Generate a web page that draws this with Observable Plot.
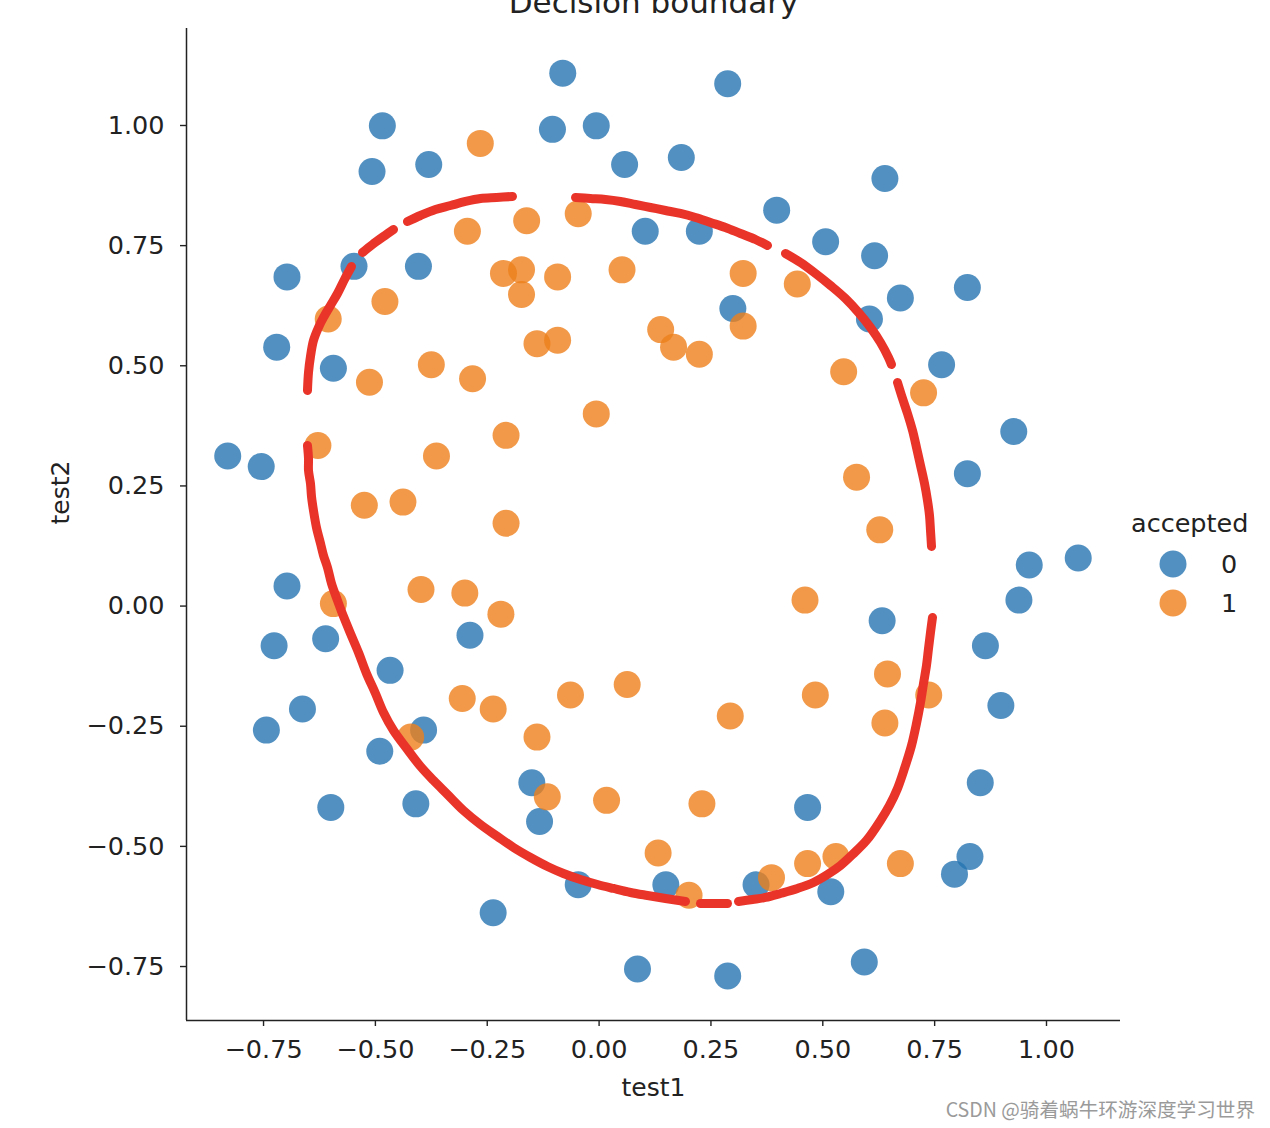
<!DOCTYPE html>
<html>
<head>
<meta charset="utf-8">
<script src="https://cdn.jsdelivr.net/npm/d3@7"></script>
<script src="https://cdn.jsdelivr.net/npm/@observablehq/plot@0.6"></script>
<style>
  html, body { margin: 0; padding: 0; background: #fff; }
  #wrap { position: relative; width: 1270px; height: 1128px; overflow: hidden; font-family: "DejaVu Sans", sans-serif; }
  #chart { position: absolute; left: 0; top: 0; }
  #legend { position: absolute; left: 1126px; top: 505px; color: #222; font-size: 25.5px; }
  #legend .title { position: absolute; left: 5px; top: 0; white-space: nowrap; line-height: 36px; }
  #legend .item { position: absolute; left: 0; white-space: nowrap; height: 36px; line-height: 36px; }
  #legend .item svg { position: absolute; left: 33px; top: 4px; }
  #legend .item span { position: absolute; left: 95px; top: 0; }
  #mark { position: absolute; right: 15px; top: 1098px; font-family: "Noto Sans CJK SC", sans-serif; font-size: 19.6px; line-height: 22px; color: #9a9a9a; white-space: nowrap; }
</style>
</head>
<body>
<div id="wrap">
  <div id="chart"></div>
  <div id="legend"></div>
  <div id="mark">CSDN @骑着蜗牛环游深度学习世界</div>
</div>
<script>
// ---- scatter data (test1, test2) ----
const rejectedTest1 = [0.18376,0.22408,0.29896,0.50634,0.61578,0.60426,0.76555,0.92684,0.82316,0.96141,0.93836,0.86348,0.89804,0.85196,0.82892,0.79435,0.59274,0.51786,0.46601,0.35081,0.28744,0.085829,0.14919,-0.13306,-0.40956,-0.39228,-0.74366,-0.69758,-0.75518,-0.69758,-0.4038,-0.38076,-0.50749,-0.54781,0.10311,0.057028,-0.10426,-0.081221,0.28744,0.39689,0.63882,0.82316,0.67339,1.0709,-0.046659,-0.23675,-0.15035,-0.49021,-0.46717,-0.28859,-0.61118,-0.66302,-0.59965,-0.72638,-0.83007,-0.72062,-0.59389,-0.48445,-0.0063364,0.63265];
const rejectedTest2 = [0.93348,0.77997,0.61915,0.75804,0.7288,0.59722,0.50219,0.3633,0.27558,0.085526,0.012427,-0.082602,-0.20687,-0.36769,-0.5212,-0.55775,-0.7405,-0.5943,-0.41886,-0.57968,-0.76974,-0.75512,-0.57968,-0.4481,-0.41155,-0.25804,-0.25804,0.041667,0.2902,0.68494,0.70687,0.91886,0.90424,0.70687,0.77997,0.91886,0.99196,1.1089,1.087,0.82383,0.88962,0.66301,0.64108,0.10015,-0.57968,-0.63816,-0.36769,-0.3019,-0.13377,-0.060673,-0.067982,-0.21418,-0.41886,-0.082602,0.31213,0.53874,0.49488,0.99927,0.99927,-0.030612];
const acceptedTest1 = [0.051267,-0.092742,-0.21371,-0.375,-0.51325,-0.52477,-0.39804,-0.30588,0.016705,0.13191,0.38537,0.52938,0.63882,0.73675,0.54666,0.322,0.16647,-0.046659,-0.17339,-0.47869,-0.60541,-0.62846,-0.59389,-0.42108,-0.11578,0.20104,0.46601,0.67339,-0.13882,-0.29435,-0.26555,-0.16187,-0.17339,-0.28283,-0.36348,-0.30012,-0.23675,-0.06394,0.062788,0.22984,0.2932,0.48329,0.64459,0.46025,0.6273,0.57546,0.72523,0.22408,0.44297,0.322,0.13767,-0.0063364,-0.092742,-0.20795,-0.20795,-0.43836,-0.21947,-0.13882];
const acceptedTest2 = [0.69956,0.68494,0.69225,0.50219,0.46564,0.2098,0.034357,-0.19225,-0.40424,-0.51389,-0.56506,-0.5212,-0.24342,-0.18494,0.48757,0.5826,0.53874,0.81652,0.69956,0.63377,0.59722,0.33406,0.005117,-0.27266,-0.39693,-0.60161,-0.53582,-0.53582,0.54605,0.77997,0.96272,0.8019,0.64839,0.47295,0.31213,0.027047,-0.21418,-0.18494,-0.16301,-0.41155,-0.2288,-0.18494,-0.14108,0.012427,0.15863,0.26827,0.44371,0.52412,0.67032,0.69225,0.57529,0.39985,0.55336,0.35522,0.17246,0.21632,-0.016813,-0.27266];

// ---- decision boundary, one array per visible run ----
const boundaryUpperLeftA = [[-0.6518,0.4486],[-0.6495,0.4861],[-0.6451,0.5193],[-0.6384,0.5526],[-0.6272,0.5797],[-0.6160,0.6005],[-0.6004,0.6255],[-0.5847,0.6504],[-0.5691,0.6796],[-0.5534,0.7066]];
const boundaryUpperLeftB = [[-0.5288,0.7357],[-0.5065,0.7524],[-0.4819,0.7690],[-0.4595,0.7836]];
const boundaryUpperLeftC = [[-0.4283,0.8002],[-0.3992,0.8127],[-0.3657,0.8252],[-0.3321,0.8335],[-0.2986,0.8419],[-0.2651,0.8481],[-0.2293,0.8502],[-0.1936,0.8523]];
const boundaryTop = [[-0.0527,0.8502],[-0.0192,0.8481],[0.0143,0.8460],[0.0478,0.8419],[0.0814,0.8356],[0.1149,0.8294],[0.1484,0.8231],[0.1819,0.8169],[0.2155,0.8086],[0.2490,0.7982],[0.2825,0.7878],[0.3160,0.7753],[0.3496,0.7628],[0.3764,0.7503]];
const boundaryUpperRight = [[0.4166,0.7337],[0.4502,0.7149],[0.4837,0.6920],[0.5172,0.6671],[0.5507,0.6400],[0.5798,0.6109],[0.6066,0.5797],[0.6290,0.5485],[0.6468,0.5173],[0.6535,0.5027]];
const boundaryRight = [[0.6670,0.4652],[0.6781,0.4320],[0.6893,0.4007],[0.7005,0.3654],[0.7094,0.3300],[0.7184,0.2926],[0.7273,0.2551],[0.7340,0.2197],[0.7385,0.1885],[0.7407,0.1573],[0.7430,0.1240]];
const boundaryLowerRight = [[0.7452,-0.0237],[0.7407,-0.0549],[0.7363,-0.0882],[0.7318,-0.1236],[0.7251,-0.1610],[0.7184,-0.2006],[0.7094,-0.2443],[0.6983,-0.2901],[0.6826,-0.3379],[0.6670,-0.3795],[0.6491,-0.4149],[0.6290,-0.4461],[0.5977,-0.4877],[0.5664,-0.5169],[0.5396,-0.5397],[0.5105,-0.5585],[0.4792,-0.5751],[0.4435,-0.5876],[0.4055,-0.5980],[0.3719,-0.6063],[0.3429,-0.6105],[0.3116,-0.6146]];
const boundaryBottom = [[0.2266,-0.6188],[0.2557,-0.6188],[0.2870,-0.6188]];
const boundaryLeft = [[0.1931,-0.6146],[0.1484,-0.6084],[0.1082,-0.6022],[0.0702,-0.5959],[0.0322,-0.5876],[-0.0036,-0.5793],[-0.0416,-0.5689],[-0.0796,-0.5564],[-0.1153,-0.5418],[-0.1533,-0.5231],[-0.1913,-0.5023],[-0.2271,-0.4794],[-0.2651,-0.4544],[-0.3031,-0.4253],[-0.3388,-0.3920],[-0.3701,-0.3629],[-0.3992,-0.3337],[-0.4283,-0.2984],[-0.4595,-0.2588],[-0.4819,-0.2214],[-0.4998,-0.1818],[-0.5199,-0.1402],[-0.5378,-0.0965],[-0.5557,-0.0570],[-0.5713,-0.0216],[-0.5847,0.0117],[-0.5981,0.0470],[-0.6071,0.0803],[-0.6160,0.1053],[-0.6227,0.1303],[-0.6317,0.1635],[-0.6384,0.1989],[-0.6428,0.2280],[-0.6451,0.2551],[-0.6495,0.2821],[-0.6495,0.3071],[-0.6518,0.3342]];

// ---- axes ----
const xDomain = [-0.9222, 1.1654];
const yDomain = [-0.8623, 1.2018];
const xTicks = [-0.75, -0.5, -0.25, 0, 0.25, 0.5, 0.75, 1.0];
const yTicks = [-0.75, -0.5, -0.25, 0, 0.25, 0.5, 0.75, 1.0];
const classLabels = ["0", "1"];
const classColors = ["#2574b2", "#ee7f1c"];

const points = [
  ...rejectedTest1.map((v, i) => ({test1: v, test2: rejectedTest2[i], accepted: "0"})),
  ...acceptedTest1.map((v, i) => ({test1: v, test2: acceptedTest2[i], accepted: "1"}))
];
const runs = [boundaryUpperLeftA, boundaryUpperLeftB, boundaryUpperLeftC, boundaryTop, boundaryUpperRight, boundaryRight, boundaryLowerRight, boundaryBottom, boundaryLeft];
const boundary = runs.flatMap((run, k) => run.map(([x, y]) => ({x, y, run: k})));

const fmt = d3.format(".2f");
const ink = "#222";

const chart = Plot.plot({
  width: 1270,
  height: 1128,
  marginLeft: 186,
  marginRight: 150,
  marginTop: 28,
  marginBottom: 108,
  style: {fontFamily: "DejaVu Sans, sans-serif", fontSize: "25.5px", color: ink, background: "transparent", overflow: "visible"},
  x: {domain: xDomain},
  y: {domain: yDomain},
  color: {domain: classLabels, range: classColors},
  marks: [
    Plot.axisX({ticks: xTicks, tickFormat: fmt, tickSize: 6, tickPadding: 13, strokeWidth: 1.4, label: null}),
    Plot.axisY({ticks: yTicks, tickFormat: fmt, tickSize: 6, tickPadding: 16, strokeWidth: 1.4, label: null}),
    Plot.ruleY([yDomain[0]], {stroke: ink, strokeWidth: 1.5}),
    Plot.ruleX([xDomain[0]], {stroke: ink, strokeWidth: 1.5}),
    Plot.dot(points, {x: "test1", y: "test2", r: 13.5, fill: "accepted", fillOpacity: 0.8, stroke: null}),
    Plot.line(boundary, {x: "x", y: "y", z: "run", stroke: "#e9342a", strokeWidth: 9, strokeLinecap: "round", strokeLinejoin: "round", curve: "catmull-rom"}),
    Plot.text(["test1"], {frameAnchor: "bottom", dy: 67, lineAnchor: "middle", fill: ink, fontSize: 25}),
    Plot.text(["test2"], {frameAnchor: "left", dx: -126, rotate: -90, lineAnchor: "middle", fill: ink, fontSize: 25}),
    Plot.text(["Decision boundary"], {frameAnchor: "top", dy: -16, lineAnchor: "bottom", fill: ink, fontSize: 31})
  ]
});
document.getElementById("chart").appendChild(chart);

// ---- legend ----
const legend = document.getElementById("legend");
legend.innerHTML = `<div class="title">accepted</div>` + classLabels.map((lab, i) =>
  `<div class="item" style="top:${41 + i * 39}px"><svg width="28" height="28"><circle cx="14" cy="14" r="13.5" fill="${classColors[i]}" fill-opacity="0.8"></circle></svg><span>${lab}</span></div>`
).join("");
</script>
</body>
</html>
